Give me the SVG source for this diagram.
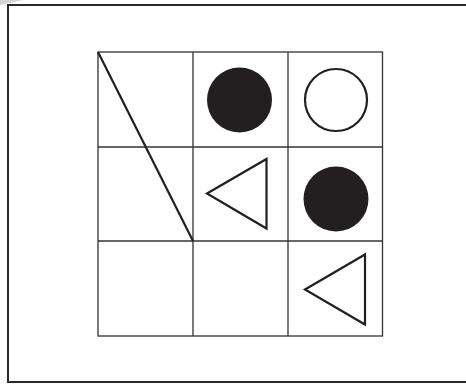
<svg xmlns="http://www.w3.org/2000/svg" width="466" height="385" viewBox="0 0 466 385">
<style>
.frame{fill:none;stroke:#2a2a2a;stroke-width:2}
.grid{fill:none;stroke:#333;stroke-width:1.3}
.shape{fill:none;stroke:#231f20;stroke-width:2.2}
.solid{fill:#231f20;stroke:none}
</style>
<rect width="466" height="385" fill="#fff"/>
<polygon points="0,0 23,0 0,5" fill="#d4d4d4"/>
<path class="frame" d="M467,5 H8 V382 H467"/>
<g id="grid">
<rect class="grid" x="98" y="52" width="284.5" height="284"/>
<line class="grid" x1="193" y1="52" x2="193" y2="336"/>
<line class="grid" x1="288" y1="52" x2="288" y2="336"/>
<line class="grid" x1="98" y1="147" x2="382.5" y2="147"/>
<line class="grid" x1="98" y1="241" x2="382.5" y2="241"/>
</g>
<g id="diagonal"><line class="shape" x1="98" y1="52" x2="193" y2="241"/></g>
<g id="filled-circle-1"><circle class="solid" cx="239.5" cy="100" r="32.5"/></g>
<g id="open-circle"><circle class="shape" cx="336" cy="100" r="31"/></g>
<g id="triangle-1"><polygon class="shape" points="207,193.5 266.5,159 266.5,228.5"/></g>
<g id="filled-circle-2"><circle class="solid" cx="336" cy="199" r="32.5"/></g>
<g id="triangle-2"><polygon class="shape" points="305,289.5 365,254.5 365,324.5"/></g>
</svg>
